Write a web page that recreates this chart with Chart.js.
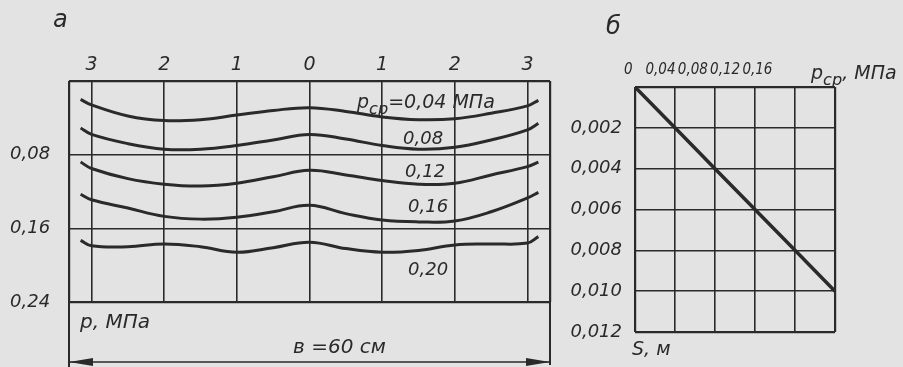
<!DOCTYPE html>
<html>
<head>
<meta charset="utf-8">
<script src="https://cdn.jsdelivr.net/npm/chart.js@4.4.1/dist/chart.umd.min.js"></script>
<style>
  html, body { margin: 0; padding: 0; }
  body { width: 903px; height: 367px; background: #e3e3e3; position: relative; overflow: hidden; }
  canvas { position: absolute; top: 0; }
  #chartA { left: 0; }
  #chartB { left: 560px; }
  .t { position: absolute; font: italic 18px 'DejaVu Sans', sans-serif;
       color: #2a2a2a; line-height: 1; white-space: nowrap; }
  .t sub { font-size: 0.85em; vertical-align: -0.35em; line-height: 0; }
</style>
</head>
<body>
<canvas id="chartA" width="560" height="367"></canvas>
<canvas id="chartB" width="343" height="367"></canvas>

<div class="t" style="left:53px;top:7px;font-size:24px">а</div>
<div class="t" style="left:606px;top:14px;font-size:24px">б</div>
<div class="t" style="left:357px;top:92px;font-size:19px">p<sub>ср</sub>=0,04 МПа</div>
<div class="t" style="left:403px;top:129px">0,08</div>
<div class="t" style="left:405px;top:162px">0,12</div>
<div class="t" style="left:408px;top:197px">0,16</div>
<div class="t" style="left:408px;top:260px">0,20</div>
<div class="t" style="left:80px;top:311px;font-size:20px">p, МПа</div>
<div class="t" style="left:293px;top:336px;font-size:20px">в =60 см</div>
<div class="t" style="left:632px;top:339px;font-size:19px">S, м</div>
<div class="t" style="left:811px;top:63px;font-size:19px">p<sub>ср</sub>, МПа</div>

<script>
// а) pressure under the plate across the width, МПа
const positions = [-3, -2, -1, 0, 1, 2, 3];
const positionLabels = ['3', '2', '1', '0', '1', '2', '3'];
const pressureTicks = [0.08, 0.16, 0.24];
const pressureLabels = ['0,08', '0,16', '0,24'];

const xs = [-3.15, -3, -2.5, -2, -1.5, -1, -0.5, 0, 0.5, 1, 1.5, 2, 2.5, 3, 3.15];
const p004 = [0.020, 0.026, 0.038, 0.043, 0.042, 0.037, 0.032, 0.029, 0.033, 0.039, 0.042, 0.041, 0.035, 0.027, 0.021];
const p008 = [0.051, 0.058, 0.068, 0.074, 0.074, 0.070, 0.064, 0.058, 0.063, 0.070, 0.074, 0.072, 0.064, 0.053, 0.046];
const p012 = [0.088, 0.095, 0.106, 0.112, 0.114, 0.111, 0.104, 0.097, 0.102, 0.108, 0.112, 0.111, 0.102, 0.093, 0.088];
const p016 = [0.123, 0.129, 0.138, 0.147, 0.150, 0.148, 0.142, 0.135, 0.144, 0.151, 0.153, 0.152, 0.142, 0.127, 0.121];
const p020 = [0.173, 0.179, 0.180, 0.177, 0.180, 0.186, 0.181, 0.175, 0.182, 0.186, 0.184, 0.178, 0.177, 0.176, 0.169];

// б) settlement vs mean pressure
const pcp = [0, 0.04, 0.08, 0.12, 0.16, 0.20];
const settlement = [0, 0.002, 0.004, 0.006, 0.008, 0.010];
const pcpTicks = [0, 0.04, 0.08, 0.12, 0.16];
const pcpLabels = ['0', '0,04', '0,08', '0,12', '0,16'];
const sTicks = [0.002, 0.004, 0.006, 0.008, 0.010, 0.012];
const sLabels = ['0,002', '0,004', '0,006', '0,008', '0,010', '0,012'];

const ink = '#2a2a2a';
Chart.defaults.font.family = "'DejaVu Sans', sans-serif";
Chart.defaults.font.style = 'italic';
Chart.defaults.color = ink;
Chart.defaults.animation = false;

function gridWidth(ctx) {
    const n = ctx.scale.ticks.length;
    return (ctx.index === 0 || ctx.index === n - 1) ? 2.2 : 1.6;
}

function curve(ys) {
    return {
        data: xs.map((x, i) => ({x: x, y: ys[i]})),
        borderColor: ink,
        borderWidth: 3,
        pointRadius: 0,
        tension: 0.4,
        fill: false
    };
}

// dimension line "в = 60 см" under panel а
const dimensionLine = {
    id: 'dimensionLine',
    afterDraw(chart) {
        const {left, right, bottom} = chart.chartArea;
        const ctx = chart.ctx;
        const y = bottom + 60;
        ctx.save();
        ctx.strokeStyle = ink;
        ctx.fillStyle = ink;
        ctx.lineWidth = 2;
        ctx.beginPath();
        ctx.moveTo(left, bottom); ctx.lineTo(left, chart.height);
        ctx.moveTo(right, bottom); ctx.lineTo(right, chart.height - 2);
        ctx.stroke();
        ctx.lineWidth = 1.6;
        ctx.beginPath();
        ctx.moveTo(left, y); ctx.lineTo(right, y);
        ctx.stroke();
        ctx.beginPath();
        ctx.moveTo(left, y); ctx.lineTo(left + 24, y - 4); ctx.lineTo(left + 24, y + 4); ctx.closePath();
        ctx.moveTo(right, y); ctx.lineTo(right - 24, y - 4); ctx.lineTo(right - 24, y + 4); ctx.closePath();
        ctx.fill();
        ctx.restore();
    }
};

new Chart(document.getElementById('chartA'), {
    type: 'line',
    data: {
        datasets: [curve(p004), curve(p008), curve(p012), curve(p016), curve(p020)]
    },
    options: {
        responsive: false,
        layout: {padding: {left: 10, right: 10, top: 0, bottom: 65}},
        plugins: {legend: {display: false}, tooltip: {enabled: false}},
        scales: {
            x: {
                type: 'linear',
                position: 'top',
                min: -3.31,
                max: 3.31,
                afterBuildTicks: (s) => {
                    s.ticks = [s.min, ...positions, s.max].map((v) => ({value: v}));
                },
                afterFit: (s) => { s.height = 81; },
                grid: {color: ink, lineWidth: gridWidth, drawTicks: false},
                border: {display: false},
                ticks: {
                    padding: 5,
                    font: {size: 19},
                    autoSkip: false,
                    maxRotation: 0,
                    callback: (v, i) => (i === 0 || i === positions.length + 1) ? '' : positionLabels[i - 1]
                }
            },
            y: {
                type: 'linear',
                reverse: true,
                min: 0,
                max: 0.24,
                afterBuildTicks: (s) => {
                    s.ticks = [0, ...pressureTicks].map((v) => ({value: v}));
                },
                afterFit: (s) => { s.width = 59; },
                grid: {color: ink, lineWidth: gridWidth, drawTicks: false},
                border: {display: false},
                ticks: {
                    crossAlign: 'far',
                    font: {size: 18},
                    callback: (v, i) => i === 0 ? '' : pressureLabels[i - 1]
                }
            }
        }
    },
    plugins: [dimensionLine]
});

new Chart(document.getElementById('chartB'), {
    type: 'line',
    data: {
        datasets: [{
            data: pcp.map((p, i) => ({x: p, y: settlement[i]})),
            borderColor: ink,
            borderWidth: 3.5,
            pointRadius: 0,
            tension: 0,
            fill: false
        }]
    },
    options: {
        responsive: false,
        layout: {padding: {left: 0, right: 68, top: 0, bottom: 35}},
        plugins: {legend: {display: false}, tooltip: {enabled: false}},
        scales: {
            x: {
                type: 'linear',
                position: 'bottom',
                min: 0,
                max: 0.2,
                afterBuildTicks: (s) => {
                    s.ticks = [0, 0.04, 0.08, 0.12, 0.16, 0.2].map((v) => ({value: v}));
                },
                afterFit: (s) => { s.height = 0; },
                grid: {color: ink, lineWidth: gridWidth, drawTicks: false},
                border: {display: false},
                ticks: {display: false}
            },
            xLabels: {
                type: 'linear',
                position: 'top',
                min: 0.0084,
                max: 0.2561,
                afterBuildTicks: (s) => {
                    s.ticks = pcpTicks.map((v) => ({value: v}));
                },
                afterFit: (s) => { s.height = 87; },
                grid: {display: false, drawTicks: false},
                border: {display: false},
                ticks: {
                    padding: 8,
                    font: {size: 15, family: "'DejaVu Sans Condensed', 'DejaVu Sans', sans-serif"},
                    autoSkip: false,
                    maxRotation: 0,
                    callback: (v, i) => pcpLabels[i]
                }
            },
            y: {
                type: 'linear',
                reverse: true,
                min: 0,
                max: 0.012,
                afterBuildTicks: (s) => {
                    s.ticks = [0, ...sTicks].map((v) => ({value: v}));
                },
                afterFit: (s) => { s.width = 75; },
                grid: {color: ink, lineWidth: gridWidth, drawTicks: false},
                border: {display: false},
                ticks: {
                    padding: 13,
                    font: {size: 18},
                    callback: (v, i) => i === 0 ? '' : sLabels[i - 1]
                }
            }
        }
    }
});
</script>
</body>
</html>
